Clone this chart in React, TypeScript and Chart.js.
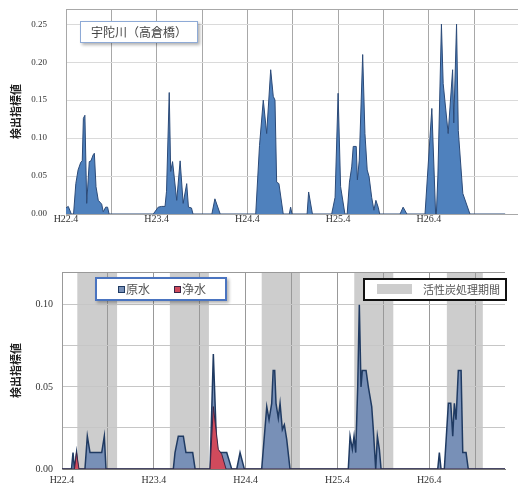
import React, { useEffect, useRef } from 'react';
import { Chart, registerables } from 'chart.js';

Chart.register(...registerables);

// x values are months counted from H22.4 (April 2010)
const yearTickLabels = ['H22.4', 'H23.4', 'H24.4', 'H25.4', 'H26.4'];

const riverMonths = [
  0, 0.3, 0.7, 1.0, 1.3, 1.6, 1.95, 2.15, 2.3, 2.5, 2.74, 3.08, 3.3, 3.6, 3.75, 3.97, 4.27, 4.72, 4.93, 5.25, 5.5, 5.7,
  11.55, 12.2, 12.65, 13.1, 13.3, 13.66, 13.85, 14.1, 14.65, 15.1, 15.5, 15.97, 16.2, 16.6, 16.8,
  19.3, 19.7, 20.4,
  25.1, 25.6, 26.1, 26.55, 27.08, 27.42, 27.65, 27.87, 28.17, 28.74,
  29.54, 29.72, 29.9,
  31.9, 32.1, 32.6,
  35.15, 35.6, 36.0, 36.33, 36.9, 37.2, 37.5, 37.8, 38.0, 38.4, 38.55, 38.8, 39.25, 39.55, 39.85, 40.1, 40.44, 40.74, 41.0, 41.3, 41.5,
  44.2, 44.6, 45.1,
  47.5, 48.4, 48.9, 49.0, 49.2, 49.67, 49.9, 50.56, 51.15, 51.3, 51.67, 51.9, 52.5, 53.44,
  58.1,
];
const riverValues = [
  0.008, 0.01, 0, 0, 0.04, 0.058, 0.068, 0.07, 0.126, 0.13, 0.014, 0.069, 0.07, 0.078, 0.08, 0.036, 0.018, 0.013, 0.003, 0.009, 0.009, 0,
  0, 0.009, 0.01, 0.01, 0.03, 0.16, 0.056, 0.069, 0.018, 0.07, 0.014, 0.04, 0.009, 0.008, 0,
  0, 0.02, 0,
  0, 0.09, 0.15, 0.106, 0.19, 0.155, 0.15, 0.042, 0.04, 0,
  0, 0.009, 0,
  0, 0.029, 0,
  0, 0.022, 0.159, 0.036, 0, 0, 0.042, 0.062, 0.089, 0.089, 0.045, 0.071, 0.21, 0.106, 0.058, 0.049, 0.022, 0.005, 0.018, 0.009, 0,
  0, 0.009, 0,
  0, 0.139, 0, 0, 0.05, 0.25, 0.172, 0.106, 0.19, 0.12, 0.25, 0.11, 0.027, 0,
  0,
];

const rawMonths = [
  0, 1.24, 1.44, 1.63, 1.9, 2.09, 3.0, 3.31, 3.66, 5.19, 5.53, 5.75,
  14.55, 14.77, 15.2, 15.86, 16.2, 17.08, 17.4,
  19.35, 19.78, 20.22, 20.65, 21.53, 22.18, 22.84, 23.27, 23.83,
  26.1, 26.76, 27.06, 27.41, 27.6, 27.8, 27.97, 28.27, 28.5, 28.8, 29.06, 29.37, 29.8,
  37.42, 37.65, 37.95, 38.17, 38.39, 38.65, 38.86, 39.08, 39.25, 39.74, 40.04, 40.48, 40.69, 41.0, 41.22, 41.48, 41.7,
  49.11, 49.32, 49.54, 49.97, 50.5, 50.81, 51.07, 51.28, 51.5, 51.8, 52.16, 52.38, 52.81, 53.1,
  57.9,
];
const rawValues = [
  0, 0, 0.01, 0, 0.01, 0, 0, 0.02, 0.01, 0.01, 0.02, 0,
  0, 0.01, 0.02, 0.02, 0.01, 0.01, 0,
  0, 0.07, 0.012, 0.01, 0.01, 0, 0, 0.01, 0,
  0, 0.038, 0.03, 0.04, 0.06, 0.06, 0.04, 0.031, 0.04, 0.024, 0.027, 0.018, 0,
  0, 0.02, 0.012, 0.02, 0.01, 0.05, 0.1, 0.05, 0.06, 0.06, 0.05, 0.038, 0.024, 0, 0.02, 0.012, 0,
  0, 0.01, 0, 0, 0.04, 0.04, 0.02, 0.04, 0.03, 0.06, 0.06, 0.01, 0.01, 0,
  0,
];

const treatedMonths = [0, 1.63, 1.9, 2.22, 19.35, 19.78, 20.43, 20.88, 21.44, 57.9];
const treatedValues = [0, 0, 0.01, 0, 0, 0.038, 0.012, 0.009, 0, 0];

const carbonStart = [2.0, 14.1, 26.1, 38.2, 50.3];
const carbonEnd = [7.2, 19.2, 31.1, 43.3, 55.0];

const toPoints = (xs: number[], ys: number[]) => xs.map((x, i) => ({ x, y: ys[i] }));

const xTickLabel = (v: any) => {
  const n = Math.round(Number(v) * 1000) / 1000;
  if (n % 12 === 0) return yearTickLabels[n / 12] ?? '';
  return '';
};

const bandsPlugin = {
  id: 'carbonBands',
  beforeDraw(chart: any) {
    const { ctx, chartArea, scales } = chart;
    const x = scales.x;
    ctx.save();
    ctx.fillStyle = '#cdcdcd';
    for (let i = 0; i < carbonStart.length; i++) {
      const x0 = x.getPixelForValue(carbonStart[i]);
      const x1 = x.getPixelForValue(carbonEnd[i]);
      ctx.fillRect(x0, chartArea.top, x1 - x0, chartArea.bottom - chartArea.top);
    }
    ctx.restore();
  },
};

const topBorderPlugin = (color: string) => ({
  id: 'topBorder',
  beforeDatasetsDraw(chart: any) {
    const { ctx, chartArea } = chart;
    ctx.save();
    ctx.strokeStyle = color;
    ctx.lineWidth = 1;
    ctx.beginPath();
    ctx.moveTo(chartArea.left, chartArea.top + 0.5);
    ctx.lineTo(chartArea.right, chartArea.top + 0.5);
    ctx.stroke();
    ctx.restore();
  },
});

const yTitle = {
  display: true,
  text: '検出指標値',
  color: '#222',
  font: { family: '"Noto Sans CJK JP", sans-serif', size: 11, weight: 'bold' as const },
  padding: { top: 9, bottom: 0 },
};

const fitY = (w: number) => (s: any) => {
  s.width = w;
  s.paddingTop = 0;
  s.paddingBottom = 0;
};

function TopChart() {
  const ref = useRef<HTMLCanvasElement>(null);
  useEffect(() => {
    const chart = new Chart(ref.current!, {
      type: 'line',
      data: {
        datasets: [
          {
            data: toPoints(riverMonths, riverValues),
            backgroundColor: '#4f81bd',
            borderColor: '#2b4a78',
            borderWidth: 1,
            pointRadius: 0,
            tension: 0,
            fill: 'origin',
          },
        ],
      },
      options: {
        animation: false,
        responsive: false,
        layout: { padding: { top: 9, right: 0, left: 0, bottom: 0 } },
        plugins: { legend: { display: false }, tooltip: { enabled: false } },
        scales: {
          x: {
            type: 'linear',
            min: 0,
            max: 59.8,
            afterFit: (s: any) => { s.height = 26; },
            grid: { color: '#a8a8a8', drawTicks: false },
            border: { color: '#a8a8a8' },
            ticks: {
              stepSize: 6,
              includeBounds: false,
              autoSkip: false,
              maxRotation: 0,
              padding: -1,
              color: '#333',
              font: { family: '"Liberation Serif", serif', size: 10 },
              callback: xTickLabel,
            },
          },
          y: {
            min: 0,
            max: 0.27,
            afterFit: fitY(66),
            grid: { color: '#dadada', drawTicks: false },
            border: { color: '#a8a8a8' },
            title: yTitle,
            ticks: {
              stepSize: 0.05,
              includeBounds: false,
              padding: 19,
              color: '#333',
              font: { family: '"Liberation Serif", serif', size: 9 },
              callback: (v: any) => Number(v).toFixed(2),
            },
          },
        },
      },
      plugins: [topBorderPlugin('#a8a8a8')],
    });
    return () => chart.destroy();
  }, []);
  return <canvas ref={ref} width={518} height={240} style={{ position: 'absolute', left: 0, top: 0 }} />;
}

function BottomChart() {
  const ref = useRef<HTMLCanvasElement>(null);
  useEffect(() => {
    const chart = new Chart(ref.current!, {
      type: 'line',
      data: {
        datasets: [
          {
            label: '浄水',
            data: toPoints(treatedMonths, treatedValues),
            backgroundColor: '#d04a5c',
            borderColor: '#3a2545',
            borderWidth: 1,
            pointRadius: 0,
            tension: 0,
            fill: 'origin',
            order: 0,
          },
          {
            label: '原水',
            data: toPoints(rawMonths, rawValues),
            backgroundColor: '#7890b7',
            borderColor: '#1f3a62',
            borderWidth: 1.5,
            pointRadius: 0,
            tension: 0,
            fill: 'origin',
            order: 1,
          },
        ],
      },
      options: {
        animation: false,
        responsive: false,
        layout: { padding: { top: 22, right: 13, left: 0, bottom: 0 } },
        plugins: { legend: { display: false }, tooltip: { enabled: false } },
        scales: {
          x: {
            type: 'linear',
            min: 0,
            max: 57.9,
            afterFit: (s: any) => { s.height = 14; },
            grid: { color: '#999999', drawTicks: false },
            border: { color: '#777777' },
            ticks: {
              stepSize: 6,
              includeBounds: false,
              autoSkip: false,
              maxRotation: 0,
              padding: 5,
              color: '#333',
              font: { family: '"Liberation Serif", serif', size: 10 },
              callback: xTickLabel,
            },
          },
          y: {
            min: 0,
            max: 0.12,
            afterFit: fitY(62),
            grid: { color: '#c6c6c6', drawTicks: false },
            border: { color: '#999999' },
            title: yTitle,
            ticks: {
              stepSize: 0.025,
              includeBounds: false,
              padding: 9,
              color: '#333',
              font: { family: '"Liberation Serif", serif', size: 10 },
              callback: (v: any) => {
                const n = Number(v) / 0.05;
                return Math.abs(n - Math.round(n)) < 1e-6 ? Number(v).toFixed(2) : '';
              },
            },
          },
        },
      },
      plugins: [bandsPlugin, topBorderPlugin('#999999')],
    });
    return () => chart.destroy();
  }, []);
  return <canvas ref={ref} width={518} height={233} style={{ position: 'absolute', left: 0, top: 250 }} />;
}

const legendFont = '"Noto Sans CJK JP", sans-serif';

export default function App() {
  return (
    <div style={{ position: 'fixed', left: 0, top: 0, width: 518, height: 483, background: '#fff', overflow: 'hidden' }}>
      <TopChart />
      <BottomChart />
      <div
        style={{
          position: 'absolute', left: 80, top: 21, width: 116, height: 20,
          border: '1px solid #8eaad6', boxShadow: '2px 2px 3px rgba(0,0,0,0.3)', background: '#fff',
          fontFamily: legendFont, fontSize: 12, color: '#444', lineHeight: '20px', textAlign: 'center',
        }}
      >
        宇陀川（高倉橋）
      </div>
      <div
        style={{
          position: 'absolute', left: 95, top: 277, width: 128, height: 20,
          border: '2px solid #4a74c0', boxShadow: '2px 2px 3px rgba(0,0,0,0.3)', background: '#fff',
          fontFamily: legendFont, fontSize: 12, color: '#555', lineHeight: '20px',
        }}
      >
        <span style={{ position: 'absolute', left: 21, top: 7, width: 5, height: 5, background: '#7890b7', border: '1px solid #1f3a62' }} />
        <span style={{ position: 'absolute', left: 29, top: 0 }}>原水</span>
        <span style={{ position: 'absolute', left: 77, top: 7, width: 5, height: 5, background: '#d04a5c', border: '1px solid #3a2545' }} />
        <span style={{ position: 'absolute', left: 85, top: 0 }}>浄水</span>
      </div>
      <div
        style={{
          position: 'absolute', left: 363, top: 278, width: 140, height: 19,
          border: '2px solid #111', background: '#fff',
          fontFamily: legendFont, fontSize: 11, color: '#555', lineHeight: '19px',
        }}
      >
        <span style={{ position: 'absolute', left: 12, top: 4, width: 35, height: 10, background: '#cdcdcd' }} />
        <span style={{ position: 'absolute', left: 58, top: 0 }}>活性炭処理期間</span>
      </div>
    </div>
  );
}
